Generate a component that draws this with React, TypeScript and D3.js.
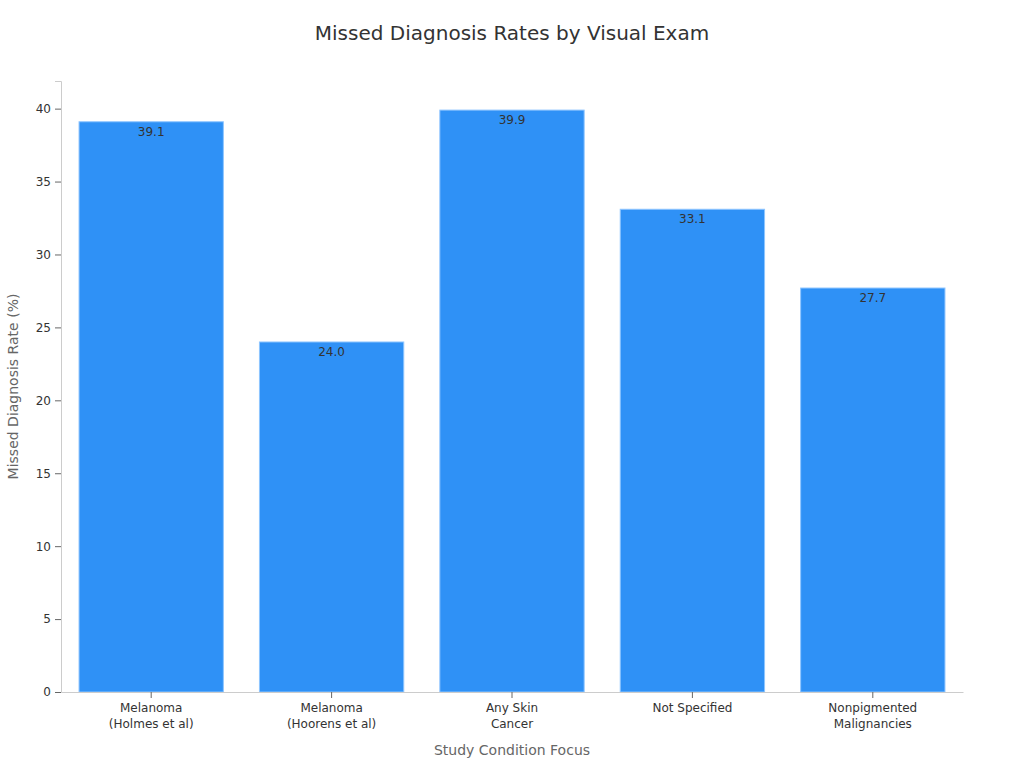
import * as d3 from "d3"
import { useEffect, useRef } from "react"

const categories = [
  ["Melanoma", "(Holmes et al)"],
  ["Melanoma", "(Hoorens et al)"],
  ["Any Skin", "Cancer"],
  ["Not Specified"],
  ["Nonpigmented", "Malignancies"]
]
const rates = [39.1, 24.0, 39.9, 33.1, 27.7]
const yTicks = [0, 5, 10, 15, 20, 25, 30, 35, 40]

const W = 1024
const H = 768
const FONT = "'DejaVu Sans', sans-serif"

const App = () => {
  const svgRef = useRef<SVGSVGElement | null>(null)

  useEffect(() => {
    if (!svgRef.current) return
    const root = d3.select(svgRef.current)
    root.selectAll("*").remove()

    const margin = { top: 81, right: 61, bottom: 76, left: 61 }
    const width = W - margin.left - margin.right
    const height = H - margin.top - margin.bottom

    const keys = categories.map(c => c.join(" "))
    const data = keys.map((k, i) => ({ key: k, lines: categories[i], value: rates[i] }))

    const x = d3
      .scaleBand()
      .domain(keys)
      .range([0, width])
      .paddingInner(0.2)
      .paddingOuter(0.1)

    const y = d3
      .scaleLinear()
      .domain([0, (d3.max(rates) || 0) * 1.05])
      .range([height, 0])

    // Title
    root
      .append("text")
      .attr("x", W / 2)
      .attr("y", 40)
      .attr("text-anchor", "middle")
      .style("font-family", FONT)
      .style("font-size", "20px")
      .style("fill", "#333")
      .text("Missed Diagnosis Rates by Visual Exam")

    const g = root.append("g").attr("transform", `translate(${margin.left},${margin.top})`)

    // Bars
    g.selectAll(".bar")
      .data(data)
      .enter()
      .append("rect")
      .attr("class", "bar")
      .attr("x", d => x(d.key) || 0)
      .attr("width", x.bandwidth())
      .attr("y", d => y(d.value))
      .attr("height", d => height - y(d.value))
      .attr("fill", "#2f91f6")
      .attr("stroke", "#8ec5ff")
      .attr("stroke-width", 1)

    // Value labels
    g.selectAll(".label")
      .data(data)
      .enter()
      .append("text")
      .attr("class", "label")
      .attr("x", d => (x(d.key) || 0) + x.bandwidth() / 2)
      .attr("y", d => y(d.value) + 14)
      .attr("text-anchor", "middle")
      .style("font-family", FONT)
      .style("font-size", "12px")
      .style("fill", "#333")
      .text(d => d.value.toFixed(1))

    // Y axis
    const yAxis = g
      .append("g")
      .call(d3.axisLeft(y).tickValues(yTicks).tickSize(6).tickPadding(4))
    yAxis.select(".domain").attr("stroke", "#ccc")
    yAxis.selectAll(".tick line").attr("stroke", "#666")
    yAxis
      .selectAll(".tick text")
      .style("font-family", FONT)
      .style("font-size", "12px")
      .style("fill", "#333")

    // X axis
    const xAxis = g
      .append("g")
      .attr("transform", `translate(0,${height})`)
      .call(d3.axisBottom(x).tickSize(6).tickSizeOuter(0).tickFormat(() => ""))
    xAxis.select(".domain").attr("stroke", "#ccc")
    xAxis.selectAll(".tick line").attr("stroke", "#666")
    xAxis
      .selectAll(".tick")
      .data(data)
      .append("text")
      .attr("text-anchor", "middle")
      .style("font-family", FONT)
      .style("font-size", "12px")
      .style("fill", "#333")
      .selectAll("tspan")
      .data(d => d.lines)
      .enter()
      .append("tspan")
      .attr("x", 0)
      .attr("y", (_, i) => 20 + i * 16)
      .text(d => d)

    // Axis titles
    g.append("text")
      .attr("x", width / 2)
      .attr("y", height + 63)
      .attr("text-anchor", "middle")
      .style("font-family", FONT)
      .style("font-size", "14px")
      .style("fill", "#666")
      .text("Study Condition Focus")

    g.append("text")
      .attr("transform", "rotate(-90)")
      .attr("x", -height / 2)
      .attr("y", -margin.left + 18)
      .attr("text-anchor", "middle")
      .style("font-family", FONT)
      .style("font-size", "14px")
      .style("fill", "#666")
      .text("Missed Diagnosis Rate (%)")
  }, [])

  return (
    <svg
      ref={svgRef}
      width={W}
      height={H}
      style={{ position: "absolute", left: 0, top: 0, background: "#fff" }}
    />
  )
}

export default App
